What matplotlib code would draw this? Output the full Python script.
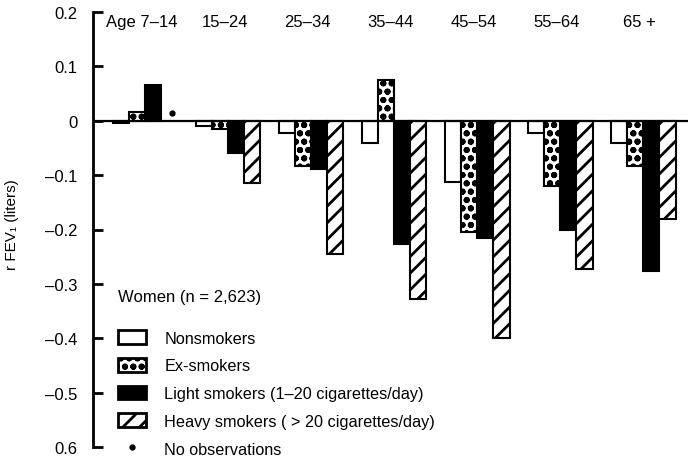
import numpy as np
import matplotlib.pyplot as plt
from matplotlib.patches import Patch
from matplotlib.lines import Line2D

plt.rcParams['font.family'] = ['Liberation Sans', 'DejaVu Sans']
plt.rcParams['hatch.linewidth'] = 2.0

# Data (change in FEV1, liters)
age_groups = ['Age 7–14', '15–24', '25–34', '35–44', '45–54', '55–64', '65 +']
nonsmokers = [-0.005, -0.010, -0.022, -0.040, -0.112, -0.022, -0.040]
ex_smokers = [0.016, -0.015, -0.084, 0.075, -0.204, -0.120, -0.083]
light_smokers = [0.066, -0.060, -0.088, -0.226, -0.215, -0.200, -0.277]
heavy_smokers = [np.nan, -0.115, -0.245, -0.328, -0.400, -0.273, -0.180]
no_obs_group = [0]
no_obs_value = [0.015]

series = [nonsmokers, ex_smokers, light_smokers, heavy_smokers]
series_labels = ['Nonsmokers', 'Ex-smokers',
                 'Light smokers (1–20 cigarettes/day)',
                 'Heavy smokers ( > 20 cigarettes/day)']
face_colors = ['white', 'white', 'black', 'white']
hatches = [None, 'oo', None, '//']

ytick_vals = [0.2, 0.1, 0, -0.1, -0.2, -0.3, -0.4, -0.5, -0.6]
ytick_labels = ['0.2', '0.1', '0', '–0.1', '–0.2', '–0.3', '–0.4', '–0.5', '0.6']

fig = plt.figure(figsize=(6.88, 4.60), dpi=100)
ax = fig.add_axes([93 / 688, 1 - 448 / 460, 1 - 93 / 688, 435 / 460])

x = np.arange(len(age_groups))
w = 0.195
for k, vals in enumerate(series):
    ax.bar(x + (k - 1.5) * w, vals, width=w, color=face_colors[k],
           edgecolor='black', linewidth=1.5, hatch=hatches[k], zorder=2)

# "no observations" dot
ax.plot(np.array(no_obs_group) + 1.5 * w + 0.03, no_obs_value, 'o',
        color='black', markersize=3.5, zorder=3)

ax.axhline(0, color='black', linewidth=1.6, zorder=4)

ax.set_xlim(-0.627, 6.54)
ax.set_ylim(-0.6, 0.2)
for s in ['top', 'right', 'bottom']:
    ax.spines[s].set_visible(False)
ax.spines['left'].set_linewidth(2)
ax.spines['left'].set_bounds(-0.6, 0.2)
ax.set_xticks([])
ax.set_yticks(ytick_vals)
ax.set_yticklabels(ytick_labels)
ax.tick_params(axis='y', direction='in', length=7, width=2, pad=11, labelsize=12)

for i, lab in enumerate(age_groups):
    ax.text(i - 0.04, 0.183, lab, ha='center', va='center', fontsize=12)

fig.text(12 / 688, 1 - 225 / 460, 'r FEV₁ (liters)', rotation=90,
         ha='center', va='center', fontsize=11)

handles = [Patch(facecolor=face_colors[k], edgecolor='black', linewidth=2,
                 hatch=hatches[k]) for k in range(4)]
handles.append(Line2D([], [], marker='o', linestyle='none', color='black',
                      markersize=3.5))
labels = series_labels + ['No observations']
leg = ax.legend(handles, labels, title='Women (n = 2,623)', loc='upper left',
                bbox_to_anchor=(118 / 688, 1 - 290 / 460),
                bbox_transform=fig.transFigure, frameon=False,
                alignment='left', fontsize=11.7, title_fontsize=12,
                handlelength=1.7, handleheight=0.9, labelspacing=0.76,
                handletextpad=1.15, borderpad=0, borderaxespad=0)
leg._legend_box.sep = 19

fig.savefig('out.png', dpi=100)
